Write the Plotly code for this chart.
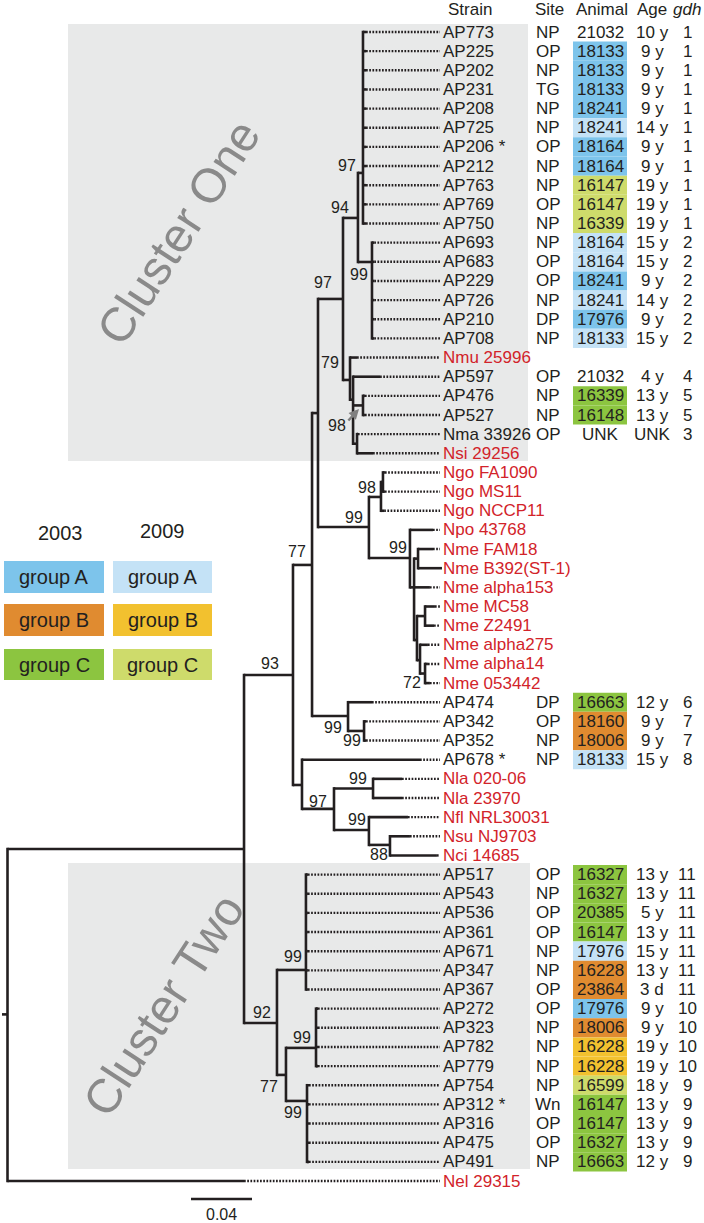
import plotly.graph_objects as go

# ---------------- data ----------------
strains = ["AP773", "AP225", "AP202", "AP231", "AP208", "AP725", "AP206 *", "AP212", "AP763", "AP769", "AP750",
           "AP693", "AP683", "AP229", "AP726", "AP210", "AP708", "Nmu 25996", "AP597", "AP476", "AP527",
           "Nma 33926", "Nsi 29256", "Ngo FA1090", "Ngo MS11", "Ngo NCCP11", "Npo 43768", "Nme FAM18",
           "Nme B392(ST-1)", "Nme alpha153", "Nme MC58", "Nme Z2491", "Nme alpha275", "Nme alpha14",
           "Nme 053442", "AP474", "AP342", "AP352", "AP678 *", "Nla 020-06", "Nla 23970", "Nfl NRL30031",
           "Nsu NJ9703", "Nci 14685", "AP517", "AP543", "AP536", "AP361", "AP671", "AP347", "AP367", "AP272",
           "AP323", "AP782", "AP779", "AP754", "AP312 *", "AP316", "AP475", "AP491", "Nel 29315"]

reference_species = ["Nmu 25996", "Nsi 29256", "Ngo FA1090", "Ngo MS11", "Ngo NCCP11", "Npo 43768",
                     "Nme FAM18", "Nme B392(ST-1)", "Nme alpha153", "Nme MC58", "Nme Z2491", "Nme alpha275",
                     "Nme alpha14", "Nme 053442", "Nla 020-06", "Nla 23970", "Nfl NRL30031", "Nsu NJ9703",
                     "Nci 14685", "Nel 29315"]

# leaf -> parent node, tip depth (substitutions/site)
leaf_parent = (["P1"] * 11 + ["P2"] * 6 + ["N79", "Nsub", "N476", "N476", "Nmansi", "Nmansi",
               "NgoSub", "NgoSub", "Ngo", "NpoNme", "FAMB", "FAMB", "NmeRoot", "MCZ", "MCZ", "N420",
               "N72", "N72", "N474", "N342", "N342", "W", "Nla", "Nla", "N99d", "N88", "N88"]
               + ["P3"] * 7 + ["P4"] * 4 + ["P5"] * 5 + ["root"])
leaf_depth = ([0.2351] * 11 + [0.2405] * 6 + [0.2292, 0.2443, 0.2344, 0.2344, 0.2298, 0.2397,
              0.2475, 0.2475, 0.2470, 0.2790, 0.2790, 0.2849, 0.2770, 0.2803, 0.2797, 0.2757,
              0.2757, 0.2770, 0.2390, 0.2351, 0.2351, 0.2705, 0.2587, 0.2587, 0.2626, 0.2639, 0.2816]
              + [0.1970] * 7 + [0.2036] * 4 + [0.1977] * 5 + [0.1551])

node_name = ["root", "I", "A93", "C2", "Z", "W", "N318", "N474", "N342", "N94", "NgoNme", "N97a", "N79",
             "P1", "P2", "Nsub", "N476", "Nmansi", "Ngo", "NgoSub", "NpoNme", "NmeRoot", "FAMB", "N2",
             "MCZ", "N420", "N72", "N97c", "Nla", "N99d", "N88", "P3", "N77b", "P4", "P5"]
node_parent = [None, "root", "I", "I", "A93", "A93", "Z", "Z", "N474", "N318", "N318", "N94", "N94",
               "N97a", "N97a", "N79", "Nsub", "Nsub", "NgoNme", "Ngo", "NgoNme", "NpoNme", "NmeRoot",
               "NmeRoot", "N2", "N2", "N420", "W", "N97c", "N97c", "N99d", "C2", "C2", "N77b", "N77b"]
node_depth = [0.0, 0.1551, 0.1872, 0.1767, 0.1997, 0.1931, 0.2036, 0.2233, 0.2338, 0.2200, 0.2370,
              0.2298, 0.2246, 0.2331, 0.2390, 0.2266, 0.2331, 0.2292, 0.2449, 0.2462, 0.2639, 0.2666,
              0.2692, 0.2685, 0.2738, 0.2705, 0.2738, 0.2141, 0.2397, 0.2370, 0.2508, 0.1957, 0.1826,
              0.2023, 0.1964]
node_row = [51.3, 42.66, 33.58, 51.75, 27.83, 39.32, 19.9, 35.72, 36.5, 13.94, 25.85, 9.71, 18.17,
            7.36, 12.01, 19.2, 19.5, 21.5, 24.28, 23.5, 27.47, 29.0, 27.5, 31.75, 30.5, 32.8, 33.5,
            40.57, 39.5, 41.67, 42.45, 48.98, 54.46, 53.05, 55.82]

boot_node = ["P1", "N97a", "P2", "N94", "N79", "N476", "Ngo", "NgoNme", "NpoNme", "N72", "Z", "A93",
             "N474", "N342", "Nla", "N97c", "N99d", "N88", "C2", "P3", "P4", "N77b", "P5"]
boot_value = ["97", "94", "99", "97", "79", "98", "98", "99", "99", "72", "77", "93",
              "99", "99", "99", "97", "99", "88", "92", "99", "99", "77", "99"]

# isolate table
iso_strain = ["AP773", "AP225", "AP202", "AP231", "AP208", "AP725", "AP206 *", "AP212", "AP763", "AP769",
              "AP750", "AP693", "AP683", "AP229", "AP726", "AP210", "AP708", "AP597", "AP476", "AP527",
              "Nma 33926", "AP474", "AP342", "AP352", "AP678 *", "AP517", "AP543", "AP536", "AP361",
              "AP671", "AP347", "AP367", "AP272", "AP323", "AP782", "AP779", "AP754", "AP312 *", "AP316",
              "AP475", "AP491"]
iso_site = ["NP", "OP", "NP", "TG", "NP", "NP", "OP", "NP", "NP", "OP", "NP", "NP", "OP", "OP", "NP", "DP",
            "NP", "OP", "NP", "NP", "OP", "DP", "OP", "NP", "NP", "OP", "NP", "OP", "OP", "NP", "NP", "OP",
            "OP", "NP", "NP", "NP", "NP", "Wn", "OP", "OP", "NP"]
iso_animal = ["21032", "18133", "18133", "18133", "18241", "18241", "18164", "18164", "16147", "16147",
              "16339", "18164", "18164", "18241", "18241", "17976", "18133", "21032", "16339", "16148",
              "UNK", "16663", "18160", "18006", "18133", "16327", "16327", "20385", "16147", "17976",
              "16228", "23864", "17976", "18006", "16228", "16228", "16599", "16147", "16147", "16327",
              "16663"]
iso_age = ["10 y", "9 y", "9 y", "9 y", "9 y", "14 y", "9 y", "9 y", "19 y", "19 y", "19 y", "15 y", "15 y",
           "9 y", "14 y", "9 y", "15 y", "4 y", "13 y", "13 y", "UNK", "12 y", "9 y", "9 y", "15 y", "13 y",
           "13 y", "5 y", "13 y", "15 y", "13 y", "3 d", "9 y", "9 y", "19 y", "19 y", "18 y", "13 y",
           "13 y", "13 y", "12 y"]
iso_gdh = ["1", "1", "1", "1", "1", "1", "1", "1", "1", "1", "1", "2", "2", "2", "2", "2", "2", "4", "5",
           "5", "3", "6", "7", "7", "8", "11", "11", "11", "11", "11", "11", "11", "10", "10", "10", "10",
           "9", "9", "9", "9", "9"]
iso_group = ["", "A03", "A03", "A03", "A03", "A09", "A03", "A03", "C09", "C09", "C09", "A09", "A09",
             "A03", "A09", "A03", "A09", "", "C03", "C03", "", "C03", "B03", "B03", "A09", "C03", "C03",
             "C03", "C03", "A09", "B03", "B03", "A03", "B03", "B09", "B09", "C09", "C03", "C03", "C03",
             "C03"]

legend_years = ["2003", "2009"]
legend_groups = ["A", "B", "C"]
group_colors = {"A03": "#7dc4eb", "A09": "#c4e2f6", "B03": "#e08b30", "B09": "#f2c12f",
                "C03": "#8cc540", "C09": "#cedb6b"}

SCALE_LEN = 0.04
SCALE_LABEL = "0.04"

# ---------------- geometry helpers (layout) ----------------
W, H = 704, 1223
PX_PER_UNIT = 1525.0
ROOT_PX = 7.5
ROW0_PX = 32.0
ROW_PX = 19.15


def X(px):
    return (px - ROOT_PX) / PX_PER_UNIT


def Y(py):
    return (py - ROW0_PX) / ROW_PX


INK = "#231f20"
RED = "#d2232a"
FONT = "Liberation Sans, Arial, Helvetica, sans-serif"
FS = 17
ALIGN = X(440)

assert len(leaf_parent) == len(strains) == len(leaf_depth)
assert len(node_name) == len(node_parent) == len(node_depth) == len(node_row)

node = {n: (p, d, r) for n, p, d, r in zip(node_name, node_parent, node_depth, node_row)}
children_rows = {n: [] for n in node_name}
for n, p, d, r in zip(node_name, node_parent, node_depth, node_row):
    if p is not None:
        children_rows[p].append(r)
for i, p in enumerate(leaf_parent):
    children_rows[p].append(i)

solid_x, solid_y = [], []
dot_x, dot_y = [], []
EXT = 1.3 / ROW_PX
for n, p, d, r in zip(node_name, node_parent, node_depth, node_row):
    if p is not None:
        solid_x += [node[p][1], d, None]
        solid_y += [r, r, None]
    rows = children_rows[n]
    solid_x += [d, d, None]
    solid_y += [min(rows) - EXT, max(rows) + EXT, None]
# root stub
solid_x += [X(2), 0.0, None]
solid_y += [node["root"][2], node["root"][2], None]
for i, (p, d) in enumerate(zip(leaf_parent, leaf_depth)):
    solid_x += [node[p][1], d, None]
    solid_y += [i, i, None]
    if d < ALIGN:
        dot_x += [d, ALIGN, None]
        dot_y += [i, i, None]

fig = go.Figure()
fig.add_trace(go.Scatter(x=dot_x, y=dot_y, mode="lines", hoverinfo="skip", showlegend=False,
                         line=dict(color=INK, width=2.4, dash="1.7px,1.5px")))
fig.add_trace(go.Scatter(x=solid_x, y=solid_y, mode="lines", hoverinfo="skip", showlegend=False,
                         line=dict(color=INK, width=2.6)))

shapes = []
# cluster shading
for (x0, x1, y0, y1) in [(68, 528, 24, 461), (68, 530, 863, 1169)]:
    shapes.append(dict(type="rect", xref="x", yref="y", x0=X(x0), x1=X(x1), y0=Y(y0), y1=Y(y1),
                       fillcolor="#e8e9e9", line=dict(width=0), layer="below"))
# animal cells
for s, g in zip(iso_strain, iso_group):
    if g:
        r = strains.index(s)
        shapes.append(dict(type="rect", xref="x", yref="y", x0=X(573), x1=X(627), y0=r - 0.5, y1=r + 0.5,
                           fillcolor=group_colors[g], line=dict(width=0), layer="below"))
# scale bar
shapes.append(dict(type="line", xref="x", yref="y", x0=X(191), x1=X(191) + SCALE_LEN, y0=Y(1199), y1=Y(1199),
                   line=dict(color=INK, width=2.6)))

ann = []


def text(x, y, s, size=FS, color=INK, xanchor="center", **kw):
    d = dict(x=x, y=y, xref="x", yref="y", text=s, showarrow=False, xanchor=xanchor, yanchor="middle",
             font=dict(family=FONT, size=size, color=color))
    d.update(kw)
    ann.append(d)


# headers
text(X(470), Y(9), "Strain")
text(X(549), Y(9), "Site")
text(X(602), Y(9), "Animal")
text(X(652), Y(9), "Age")
text(X(687), Y(9), "<i>gdh</i>")

# strain labels
for i, s in enumerate(strains):
    text(X(441), i, s, color=RED if s in reference_species else INK, xanchor="left")

# table
for s, site, an, age, g in zip(iso_strain, iso_site, iso_animal, iso_age, iso_gdh):
    r = strains.index(s)
    text(X(548), r, site)
    text(X(600), r, an)
    text(X(652), r, age)
    text(X(687), r, g)

# bootstrap labels
boot_offsets = {"P1": (-16, -7), "N97a": (-18, -10), "P2": (-13, 13), "N94": (-20, -16), "N79": (-20, -17),
                "N476": (-26, 20), "Ngo": (-14, -9), "NgoNme": (-15, -10), "NpoNme": (-12, -11),
                "N72": (-13, 9), "Z": (-15, -13), "A93": (-23, -12), "N474": (-15, 11), "N342": (-12, 10),
                "Nla": (-15, -10), "N97c": (-16, -7), "N99d": (-12, -10), "N88": (-11, 10), "C2": (-15, -11),
                "P3": (-13, -13), "P4": (-14, -10), "N77b": (-17, 12), "P5": (-14, 12)}
for n, v in zip(boot_node, boot_value):
    _, d, r = node[n]
    px = ROOT_PX + d * PX_PER_UNIT
    py = ROW0_PX + r * ROW_PX
    dx, dy = boot_offsets[n]
    text(X(px + dx), Y(py + dy), v, size=16)

# arrow pointing to the 98 node
ann.append(dict(x=X(359), y=Y(409), ax=X(347), ay=Y(422), xref="x", yref="y", axref="x", ayref="y",
                text="", showarrow=True, arrowhead=2, arrowsize=0.8, arrowwidth=2.5, arrowcolor="#808080"))

# cluster titles
text(X(178), Y(232), "Cluster One", size=48, color="#8a8a8a", textangle=-57)
text(X(163), Y(1005), "Cluster Two", size=48, color="#8a8a8a", textangle=-57)

# scale label
text(X(221), Y(1214), SCALE_LABEL, size=16)

# legend
col_px = [(4, 104), (113, 212)]
row_px = [(561, 593), (604, 636), (649, 680)]
year_px = [(60, 533), (162, 531)]
for ci, yr in enumerate(legend_years):
    text(X(year_px[ci][0]), Y(year_px[ci][1]), yr, size=20)
    for ri, gname in enumerate(legend_groups):
        key = gname + yr[-2:]
        x0, x1 = col_px[ci]
        y0, y1 = row_px[ri]
        shapes.append(dict(type="rect", xref="x", yref="y", x0=X(x0), x1=X(x1), y0=Y(y0), y1=Y(y1),
                           fillcolor=group_colors[key], line=dict(width=0), layer="below"))
        text(X((x0 + x1) / 2), Y((y0 + y1) / 2), "group " + gname, size=20)

fig.update_layout(
    width=W, height=H, margin=dict(l=0, r=0, t=0, b=0),
    paper_bgcolor="white", plot_bgcolor="white",
    xaxis=dict(range=[X(0), X(W)], visible=False, fixedrange=True),
    yaxis=dict(range=[Y(H), Y(0)], visible=False, fixedrange=True),
    shapes=shapes, annotations=ann, showlegend=False,
)
fig.write_html("out.html", config={"displayModeBar": False},
               post_script="document.body.style.margin='0px';document.body.style.overflow='hidden';")
